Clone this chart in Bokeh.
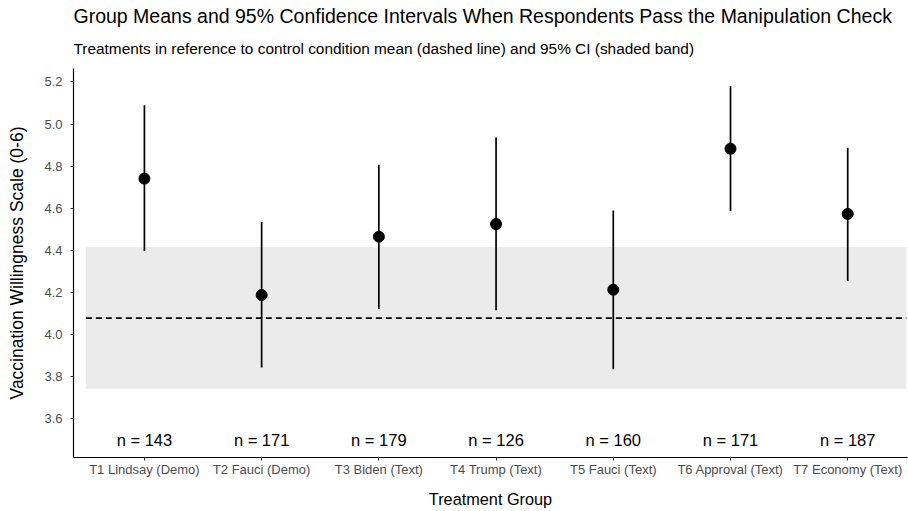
from bokeh.plotting import figure
from bokeh.models import Range1d, FixedTicker, Title, PrintfTickFormatter
from bokeh.embed import file_html
from bokeh.resources import INLINE
from bokeh.core.properties import value

# ---- data ----
groups = ["T1 Lindsay (Demo)", "T2 Fauci (Demo)", "T3 Biden (Text)", "T4 Trump (Text)",
          "T5 Fauci (Text)", "T6 Approval (Text)", "T7 Economy (Text)"]
means = [4.741, 4.188, 4.465, 4.525, 4.213, 4.883, 4.573]
ci_lower = [4.397, 3.843, 4.121, 4.115, 3.835, 4.587, 4.254]
ci_upper = [5.089, 4.535, 4.807, 4.936, 4.590, 5.180, 4.888]
n_sizes = [143, 171, 179, 126, 160, 171, 187]
control_mean = 4.078
control_lower = 3.743
control_upper = 4.416
n_label_y = 3.5
y_ticks = [3.6, 3.8, 4.0, 4.2, 4.4, 4.6, 4.8, 5.0, 5.2]

FONT = "Liberation Sans"
xs = list(range(1, len(groups) + 1))
x_lo, x_hi = 0.5, len(groups) + 0.5

p = figure(width=908, height=511, output_backend="svg", toolbar_location=None,
           x_range=Range1d(0.395, 7.51), y_range=Range1d(3.416, 5.264),
           min_border_left=73, min_border_right=1, min_border_top=68,
           min_border_bottom=54)
p.outline_line_color = None
p.xgrid.visible = False
p.ygrid.visible = False
p.background_fill_color = "white"

# titles (main title outermost, subtitle next to the plot)
p.title.text = "Group Means and 95% Confidence Intervals When Respondents Pass the Manipulation Check"
p.title.text_font = FONT
p.title.text_font_size = "19.5px"
p.title.text_font_style = "normal"
p.title.text_color = "black"
p.title.align = "left"
p.title.standoff = -3
p.add_layout(Title(text="Treatments in reference to control condition mean (dashed line) and 95% CI (shaded band)",
                   text_font=FONT, text_font_size="15.4px", text_font_style="normal",
                   text_color="black", align="left", standoff=24), "above")

# control band and mean
p.quad(left=[x_lo], right=[x_hi], bottom=[control_lower], top=[control_upper],
       fill_color="#ebebeb", line_color=None)
p.segment(x0=[x_lo], y0=[control_mean], x1=[x_hi], y1=[control_mean],
          line_color="black", line_width=1.7, line_dash="6 4")

# error bars and means
p.segment(x0=xs, y0=ci_lower, x1=xs, y1=ci_upper, line_color="black", line_width=1.7)
p.scatter(x=xs, y=means, size=11, fill_color="black", line_color="black")

# n labels
p.text(x=xs, y=[n_label_y] * len(xs), text=[f"n = {n}" for n in n_sizes],
       text_align="center", text_baseline="middle", text_font=value(FONT),
       text_font_size="16.5px", text_color="black")

# axes
for ax in (p.xaxis[0], p.yaxis[0]):
    ax.axis_line_color = "black"
    ax.axis_line_width = 1.2
    ax.major_tick_in = 0
    ax.major_tick_out = 3
    ax.major_tick_line_color = "#333333"
    ax.minor_tick_line_color = None
    ax.major_label_text_color = "#4d4d4d"
    ax.major_label_text_font = FONT
    ax.major_label_text_font_size = "13px"
    ax.axis_label_text_font = FONT
    ax.axis_label_text_font_style = "normal"
    ax.axis_label_text_color = "black"

p.xaxis.ticker = FixedTicker(ticks=xs)
p.xaxis.major_label_overrides = {x: g for x, g in zip(xs, groups)}
p.xaxis.major_label_standoff = 1
p.xaxis.axis_label = "Treatment Group"
p.xaxis.axis_label_text_font_size = "16.3px"
p.xaxis.axis_label_standoff = 10

p.yaxis.ticker = FixedTicker(ticks=y_ticks)
p.yaxis.formatter = PrintfTickFormatter(format="%.1f")
p.yaxis.major_label_standoff = 8
p.yaxis.axis_label = "Vaccination Willingness Scale (0-6)"
p.yaxis.axis_label_text_font_size = "17.5px"
p.yaxis.axis_label_standoff = 14

open("out.html", "w").write(file_html(p, INLINE))
